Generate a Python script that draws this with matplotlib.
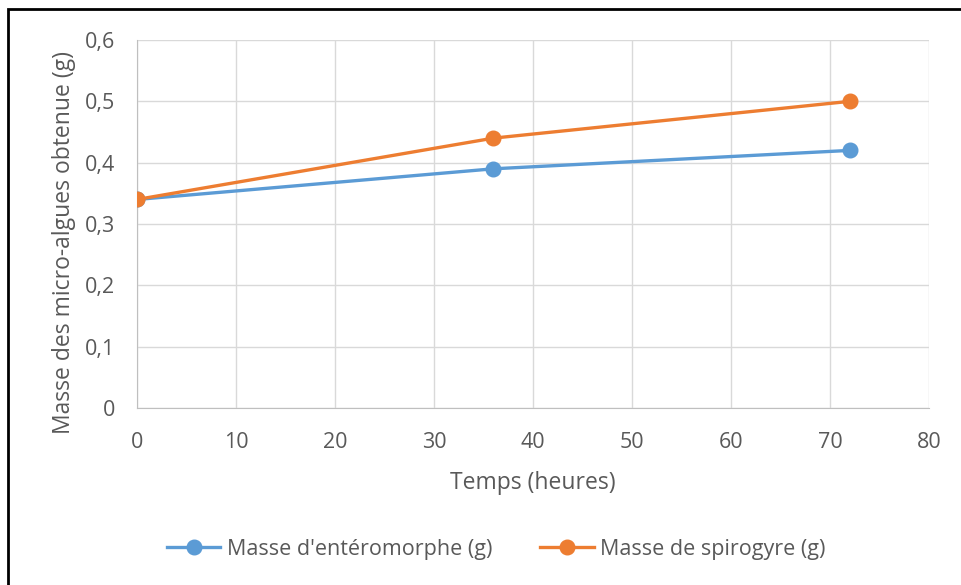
import matplotlib
matplotlib.use("Agg")
import matplotlib.pyplot as plt
from matplotlib.ticker import FuncFormatter, MultipleLocator
from matplotlib.patches import Rectangle
from matplotlib.lines import Line2D

temps = [0, 36, 72]
enteromorphe = [0.34, 0.39, 0.42]
spirogyre = [0.34, 0.44, 0.50]
labels = ["Masse d'entéromorphe (g)", "Masse de spirogyre (g)"]
colors = ["#5B9BD5", "#ED7D31"]

plt.rcParams['font.family'] = ['Open Sans', 'DejaVu Sans']

W, H = 962, 585
fig = plt.figure(figsize=(W/100, H/100), dpi=100)
ax = fig.add_axes([137/W, 1-408/H, (929-137)/W, (408-40)/H])

for y, c, lab in zip([enteromorphe, spirogyre], colors, labels):
    ax.plot(temps, y, color=c, lw=2.4, marker='o', ms=10.5, label=lab,
            solid_capstyle='round', zorder=3)

ax.set_xlim(0, 80)
ax.set_ylim(0, 0.6)
ax.xaxis.set_major_locator(MultipleLocator(10))
ax.yaxis.set_major_locator(MultipleLocator(0.1))
ax.yaxis.set_major_formatter(FuncFormatter(lambda v, p: ("%.1f" % v).replace('.', ',') if abs(v) > 1e-9 else "0"))
ax.grid(True, color='#D9D9D9', lw=1.0)
ax.set_axisbelow(True)
for s in ['top', 'right']:
    ax.spines[s].set_visible(False)
for s in ['left', 'bottom']:
    ax.spines[s].set_color('#BFBFBF')
ax.tick_params(length=0, colors='#595959', labelsize=15.5)
ax.tick_params(axis='y', pad=16)
ax.tick_params(axis='x', pad=17)
ax.set_xlabel("Temps (heures)", fontsize=16.5, color='#595959', labelpad=13)
ax.set_ylabel("Masse des micro-algues obtenue (g)", fontsize=16.5, color='#595959')
ax.yaxis.set_label_coords(-0.077, 0.45)

handles = [Line2D([], [], color=c, lw=2.4, marker='o', ms=10.5) for c in colors]
fig.legend(handles, labels, loc='center', bbox_to_anchor=(496/W, 1-549/H), ncol=2,
           frameon=False, fontsize=15.5, labelcolor='#595959', handlelength=2.5,
           handletextpad=0.3, columnspacing=2.2)

fig.patches.append(Rectangle((8/W, -0.1), 1.2, 1-9/H+0.1, transform=fig.transFigure,
                             fill=False, ec='black', lw=2.0))

fig.savefig("out.png", dpi=100)
